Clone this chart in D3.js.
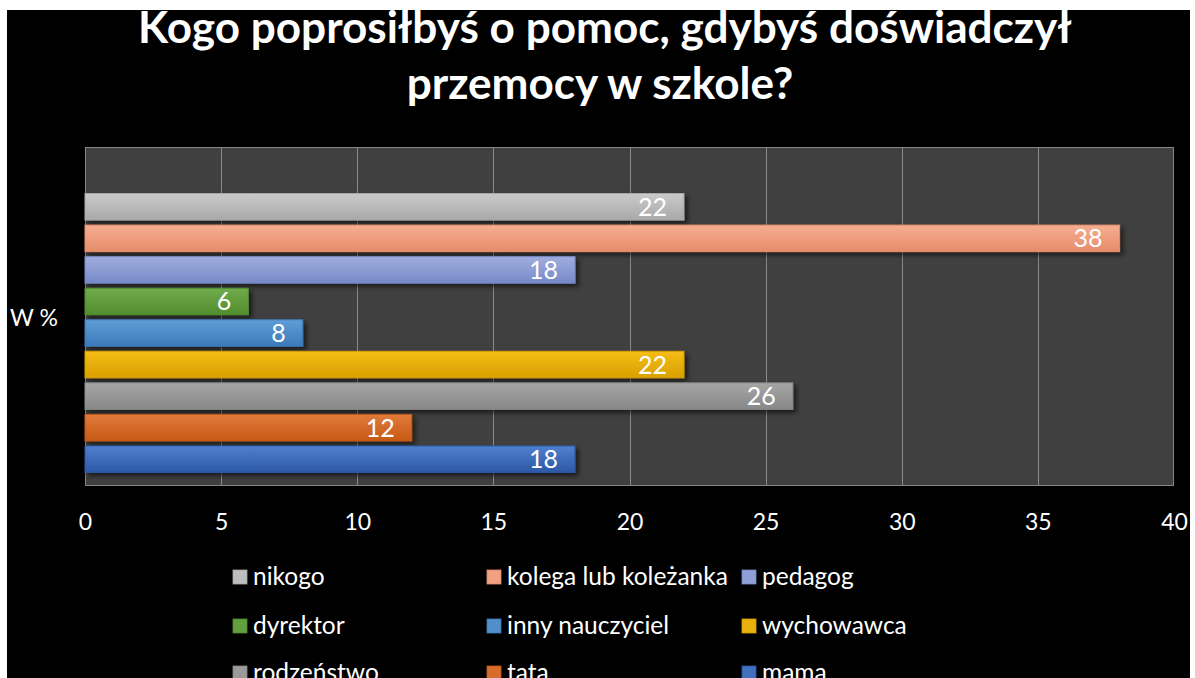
<!DOCTYPE html>
<html><head><meta charset="utf-8">
<script src="https://cdn.jsdelivr.net/npm/d3@7"></script>
<style>body{margin:0;background:#fff;}svg{display:block;}</style>
</head><body>
<svg id="c" width="1195" height="678"></svg>
<script>
const categories = ["nikogo","kolega lub koleżanka","pedagog","dyrektor","inny nauczyciel","wychowawca","rodzeństwo","tata","mama"];
const values = [22,38,18,6,8,22,26,12,18];
const colorsTop = ["#cacaca","#f5ae92","#a0aede","#70ab4b","#5f9ed7","#f4bd16","#a6a6a6","#e17b3c","#5080cf"];
const colorsBottom = ["#a9a9a9","#e68d6b","#7789c8","#528d2e","#3c79b8","#d9a000","#888888","#c65916","#2c58a5"];
const xTicks = [0,5,10,15,20,25,30,35,40];
const titleLines = ["Kogo poprosiłbyś o pomoc, gdybyś doświadczył","przemocy w szkole?"];
const axisTitle = "W %";

const svg = d3.select("#c");
const FONT = "Lato, 'Open Sans', sans-serif";

// background
svg.append("rect").attr("x",7).attr("y",10).attr("width",1183).attr("height",668).attr("fill","#000");

const defs = svg.append("defs");
categories.forEach((c,i)=>{
  const g = defs.append("linearGradient").attr("id","g"+i).attr("x1",0).attr("y1",0).attr("x2",0).attr("y2",1);
  g.append("stop").attr("offset","0%").attr("stop-color",colorsTop[i]);
  g.append("stop").attr("offset","100%").attr("stop-color",colorsBottom[i]);
});
const f = defs.append("filter").attr("id","sh").attr("x","-5%").attr("y","-30%").attr("width","115%").attr("height","180%");
f.append("feDropShadow").attr("dx",3).attr("dy",3).attr("stdDeviation",2.5).attr("flood-color","#000").attr("flood-opacity",0.6);

const plot = {x0:85, x1:1174, y0:147, y1:486};
const x = d3.scaleLinear().domain([0,40]).range([plot.x0, plot.x1]);
const y = d3.scaleBand().domain(categories).range([191,475]).paddingInner(0.16).paddingOuter(0.08);

// plot area
svg.append("rect").attr("x",plot.x0).attr("y",plot.y0).attr("width",plot.x1-plot.x0).attr("height",plot.y1-plot.y0)
  .attr("fill","#404040");
// grid
svg.append("g").selectAll("line").data(xTicks.slice(1,-1)).join("line")
  .attr("x1",d=>Math.round(x(d))+0.5).attr("x2",d=>Math.round(x(d))+0.5)
  .attr("y1",plot.y0).attr("y2",plot.y1).attr("stroke","#8a8a8a").attr("stroke-width",1);
svg.append("rect").attr("x",plot.x0+0.5).attr("y",plot.y0+0.5).attr("width",plot.x1-plot.x0-1).attr("height",plot.y1-plot.y0-1)
  .attr("fill","none").attr("stroke","#858585").attr("stroke-width",1);

// bars
const bars = svg.append("g");
bars.selectAll("rect").data(categories).join("rect")
  .attr("x",x(0)).attr("y",d=>y(d)).attr("width",(d,i)=>x(values[i])-x(0)).attr("height",y.bandwidth())
  .attr("fill",(d,i)=>`url(#g${i})`).attr("stroke",(d,i)=>colorsBottom[i]).attr("stroke-width",1)
  .attr("filter","url(#sh)");
bars.selectAll("text").data(categories).join("text")
  .attr("x",(d,i)=>x(values[i])-17).attr("y",d=>y(d)+y.bandwidth()/2).attr("dy","0.36em")
  .attr("text-anchor","end").attr("fill","#fff").attr("font-family",FONT).attr("font-size",25)
  .text((d,i)=>values[i]);

// axis
const axis = d3.axisBottom(x).tickValues(xTicks).tickSize(0).tickPadding(0);
const ag = svg.append("g").attr("transform",`translate(0,${plot.y1})`).call(axis);
ag.select(".domain").remove();
ag.selectAll("text").attr("y",36).attr("dy","0.36em").attr("fill","#fff").attr("font-family",FONT).attr("font-size",23);

// axis title
svg.append("text").attr("x",10).attr("y",318).attr("dy","0.36em").attr("fill","#fff")
  .attr("font-family",FONT).attr("font-size",23).text(axisTitle);

// title
const tl = svg.append("g");
const t1 = tl.append("text").attr("x",605).attr("y",43).attr("text-anchor","middle").attr("fill","#fff")
  .attr("font-family",FONT).attr("font-weight","bold").attr("font-size",44).text(titleLines[0]);
const w1 = t1.node().getComputedTextLength();
const fs = 44*934/w1;
t1.attr("font-size",fs);
tl.append("text").attr("x",600).attr("y",99).attr("text-anchor","middle").attr("fill","#fff")
  .attr("font-family",FONT).attr("font-weight","bold").attr("font-size",fs).text(titleLines[1]);

// legend
const colX = [233,487,742];
const rowY = [577,626,673];
const lg = svg.append("g");
categories.forEach((c,i)=>{
  const cx = colX[i%3], cy = rowY[Math.floor(i/3)];
  lg.append("rect").attr("x",cx).attr("y",cy-7).attr("width",14).attr("height",14)
    .attr("fill",d3.interpolateRgb(colorsTop[i],colorsBottom[i])(0.4)).attr("stroke",colorsBottom[i]).attr("stroke-width",0.8);
  lg.append("text").attr("x",cx+20).attr("y",cy).attr("dy","0.33em").attr("fill","#fff")
    .attr("font-family",FONT).attr("font-size",24.5).text(c);
});
</script>
</body></html>
